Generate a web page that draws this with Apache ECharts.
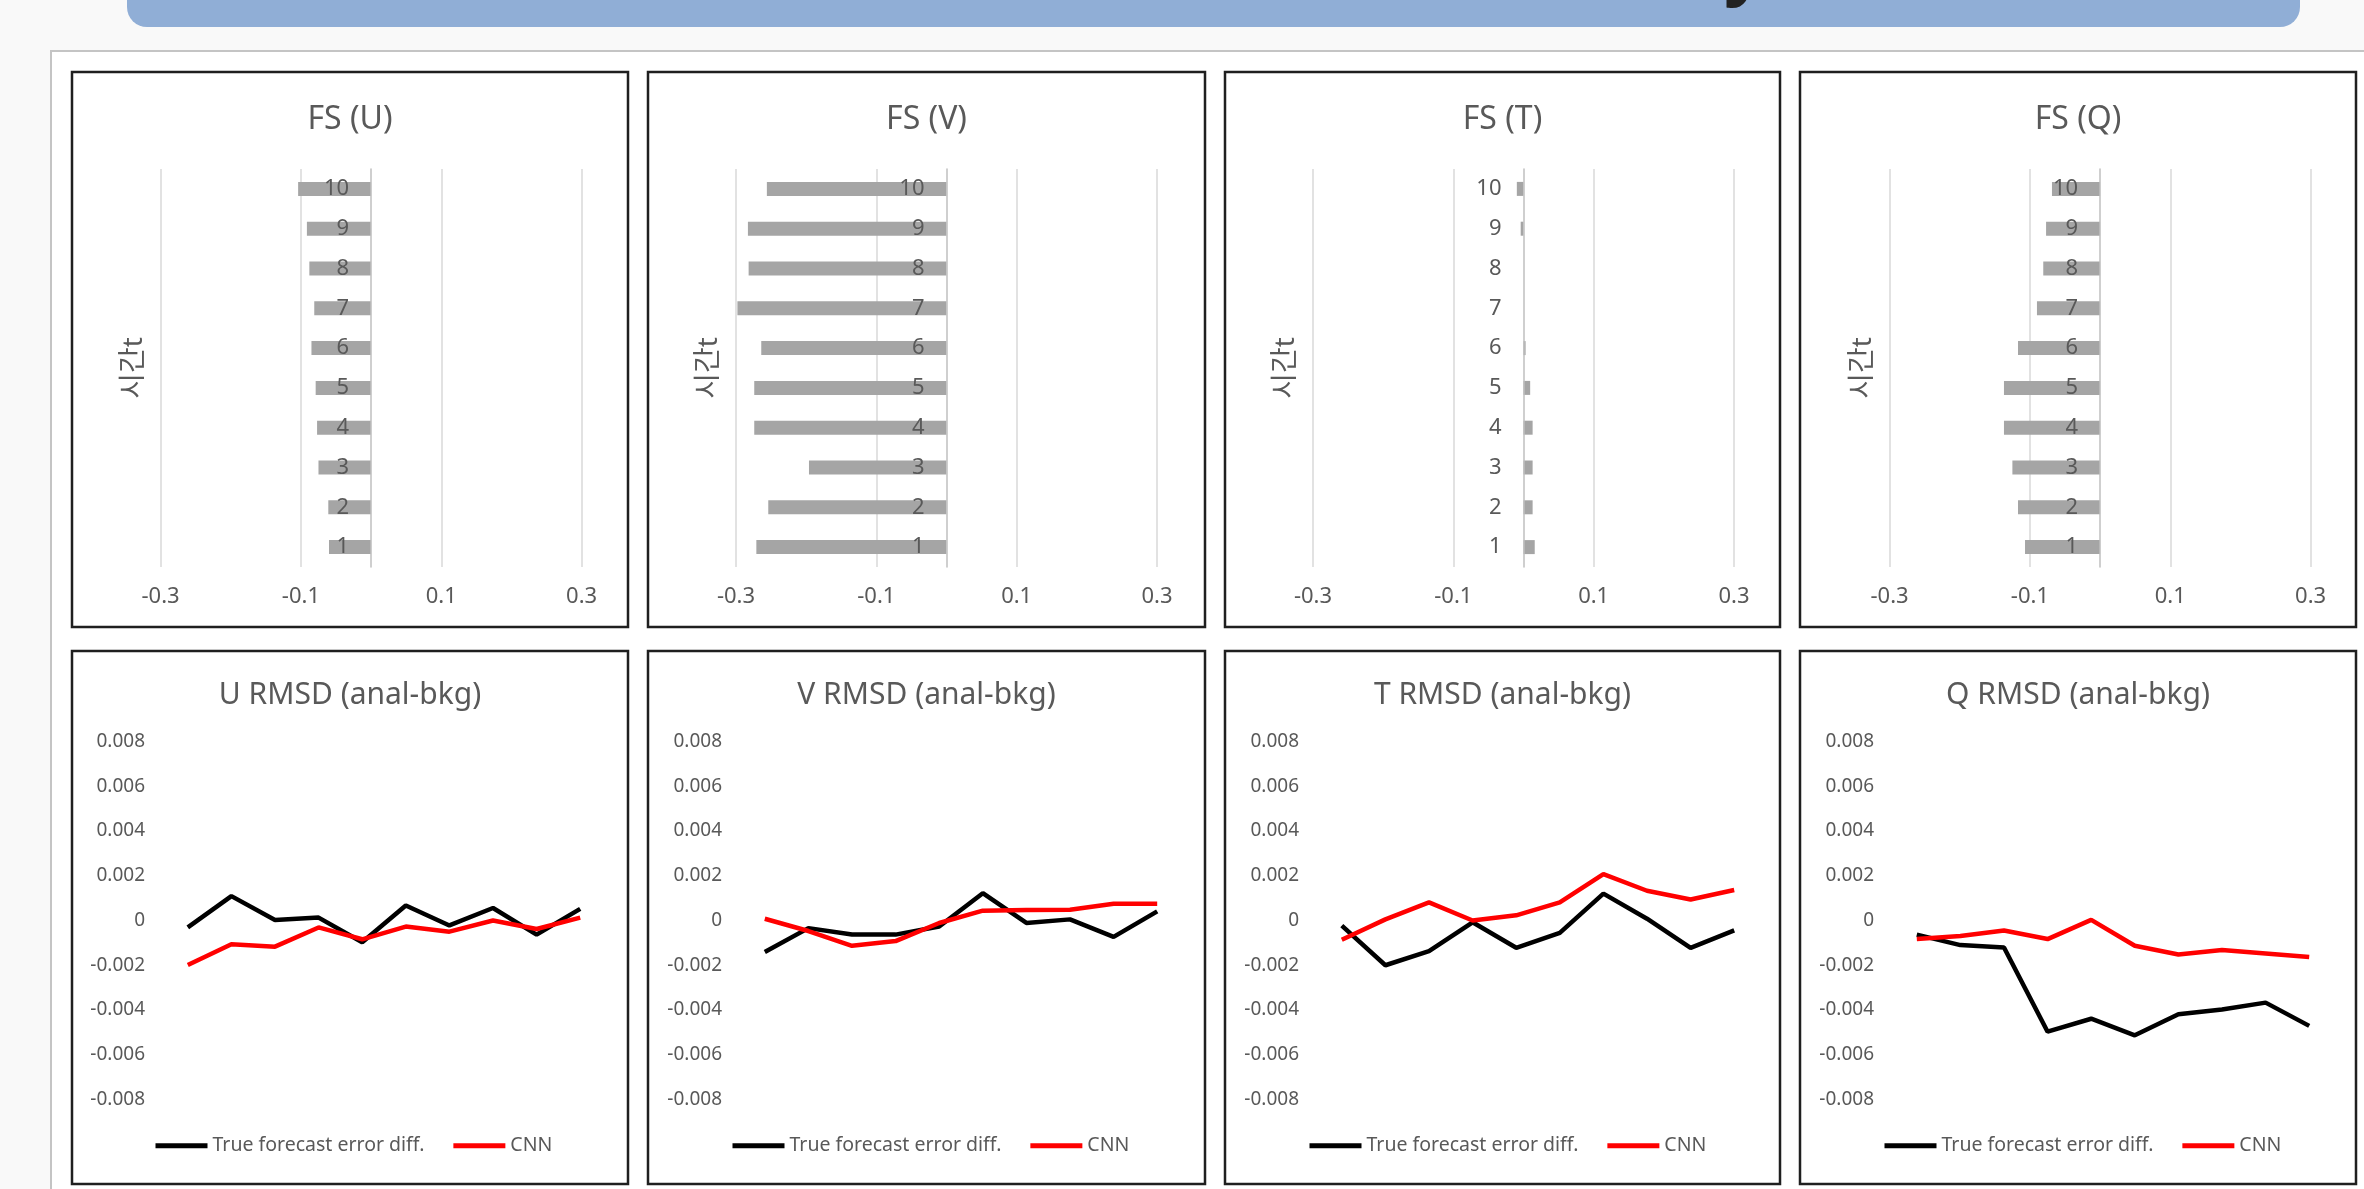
<!DOCTYPE html>
<html>
<head>
<meta charset="utf-8">
<script src="https://cdn.jsdelivr.net/npm/echarts@6/dist/echarts.min.js"></script>
<style>
  html, body { margin: 0; padding: 0; background: #f9f9f9; overflow: hidden; }
  #banner {
    position: absolute; left: 127px; top: -30px; width: 2173px; height: 57px;
    background: #90aed6; border-radius: 20px; overflow: hidden;
  }
  #banner span {
    position: absolute; left: 1597px; top: -43px;
    font: bold 72px/72px "Noto Sans", sans-serif; color: #222;
  }
  #sheet {
    position: absolute; left: 50px; top: 50px; width: 2400px; height: 1300px;
    background: #fff; border: 2px solid #c4c4c4; box-sizing: border-box;
  }
  #chart { position: absolute; left: 0; top: 0; width: 2364px; height: 1189px; }
</style>
</head>
<body>
<div id="banner"><span>y</span></div>
<div id="sheet"></div>
<div id="chart"></div>
<script>
// Forecast steps (category axis of every panel)
const steps = ['1', '2', '3', '4', '5', '6', '7', '8', '9', '10'];

// Forecast sensitivity per step (top row, horizontal bars)
const fsU = [-0.060, -0.061, -0.075, -0.077, -0.079, -0.085, -0.081, -0.088, -0.0915, -0.104];
const fsV = [-0.271, -0.254, -0.196, -0.274, -0.274, -0.264, -0.298, -0.282, -0.283, -0.256];
const fsT = [0.016, 0.013, 0.013, 0.013, 0.0095, 0.003, 0, 0, -0.004, -0.0095];
const fsQ = [-0.107, -0.117, -0.125, -0.137, -0.137, -0.117, -0.090, -0.081, -0.077, -0.0686];

// RMSD difference (analysis - background) per step (bottom row, lines)
const trueU = [-0.00031, 0.00109, 0.00002, 0.00013, -0.00097, 0.00067, -0.00022, 0.00056, -0.00063, 0.00052];
const cnnU  = [-0.00199, -0.00106, -0.00117, -0.00031, -0.00084, -0.00027, -0.0005, 0.0, -0.00038, 0.00013];
const trueV = [-0.00141, -0.00034, -0.00063, -0.00063, -0.00027, 0.00122, -0.00011, 0.00005, -0.00073, 0.00041];
const cnnV  = [0.00008, -0.00047, -0.00113, -0.00092, -0.00011, 0.00044, 0.00047, 0.00048, 0.00075, 0.00075];
const trueT = [-0.00023, -0.002, -0.00137, -0.00008, -0.00122, -0.00055, 0.0012, 0.00008, -0.00122, -0.00044];
const cnnT  = [-0.00086, 0.00005, 0.00081, 0.0, 0.00023, 0.00081, 0.00207, 0.00133, 0.00094, 0.00136];
const trueQ = [-0.00063, -0.0011, -0.00121, -0.00497, -0.00439, -0.00513, -0.00419, -0.00398, -0.00367, -0.00471];
const cnnQ  = [-0.00083, -0.00069, -0.00045, -0.00083, 0.00003, -0.00113, -0.00152, -0.00132, -0.00147, -0.00163];

// Texts
const fsTitles = ['FS (U)', 'FS (V)', 'FS (T)', 'FS (Q)'];
const rmsdTitles = ['U RMSD (anal-bkg)', 'V RMSD (anal-bkg)', 'T RMSD (anal-bkg)', 'Q RMSD (anal-bkg)'];
const stepAxisName = '시간t';
const seriesNames = ['True forecast error diff.', 'CNN'];

const fsData = [fsU, fsV, fsT, fsQ];
const trueData = [trueU, trueV, trueT, trueQ];
const cnnData = [cnnU, cnnV, cnnT, cnnQ];

// ---- layout ----
const FONT = '"Noto Sans", "Noto Sans CJK KR", sans-serif';
const GREY_TEXT = '#595959';
const boxLeft = [72, 648, 1225, 1800];
const boxRight = [628, 1205, 1780, 2356];
const topBox = [72, 627];
const bottomBox = [651, 1184];
const barGridLeft = [160.6, 736, 1313, 1889.6];
const barGridWidth = 421;
const lineGridLeft = [166, 743, 1320, 1895];
const lineGridWidth = 436;

const grid = [], xAxis = [], yAxis = [], series = [], legend = [], graphic = [];

for (let i = 0; i < 4; i++) {
  // top: horizontal bar panel, value axis symmetric around 0
  grid.push({ left: barGridLeft[i], top: 169, width: barGridWidth, height: 398, outerBoundsMode: 'none' });
  xAxis.push({
    gridIndex: i, type: 'value', min: -0.3, max: 0.3, interval: 0.1,
    axisLine: { show: false }, axisTick: { show: false },
    splitLine: { show: true, lineStyle: { color: ['#d9d9d9', 'rgba(0,0,0,0)'], width: 1.5 } },
    axisLabel: {
      color: GREY_TEXT, fontSize: 22, fontFamily: FONT, margin: 19,
      formatter: v => { const k = Math.round(v * 10); return k % 2 !== 0 ? (k / 10).toString() : ''; }
    }
  });
  // step axis sits on the zero line: shift it to the middle of the grid
  yAxis.push({
    gridIndex: i, type: 'category', data: steps, z: 5,
    offset: -barGridWidth / 2,
    axisLine: { show: true, onZero: false, lineStyle: { color: '#bfbfbf', width: 1.5 } },
    axisTick: { show: false }, splitLine: { show: false },
    axisLabel: { color: GREY_TEXT, fontSize: 22, fontFamily: FONT, margin: 22, interval: 0 }
  });
  series.push({
    type: 'bar', xAxisIndex: i, yAxisIndex: i, data: fsData[i], barWidth: 14,
    itemStyle: { color: '#a5a5a5' }, silent: true, z: 2
  });
}

for (let i = 0; i < 4; i++) {
  const g = 4 + i;
  // bottom: line panel
  grid.push({ left: lineGridLeft[i], top: 741.5, width: lineGridWidth, height: 358, outerBoundsMode: 'none' });
  xAxis.push({
    gridIndex: g, type: 'category', data: steps, boundaryGap: true,
    axisLine: { show: false }, axisTick: { show: false }, axisLabel: { show: false }, splitLine: { show: false }
  });
  yAxis.push({
    gridIndex: g, type: 'value', min: -0.008, max: 0.008, interval: 0.002,
    axisLine: { show: false }, axisTick: { show: false }, splitLine: { show: false },
    axisLabel: {
      color: GREY_TEXT, fontSize: 19, fontFamily: FONT, margin: 21,
      formatter: v => (Math.abs(v) < 1e-9 ? '0' : v.toFixed(3))
    }
  });
  series.push({
    type: 'line', name: seriesNames[0], xAxisIndex: g, yAxisIndex: g, data: trueData[i],
    symbol: 'none', color: '#000000', lineStyle: { width: 4.5, color: '#000000' }, silent: true, z: 3
  });
  series.push({
    type: 'line', name: seriesNames[1], xAxisIndex: g, yAxisIndex: g, data: cnnData[i],
    symbol: 'none', color: '#ff0000', lineStyle: { width: 4.5, color: '#ff0000' }, silent: true, z: 4
  });
  legend.push({
    left: lineGridLeft[i] - 10.5, top: 1136, padding: 0, orient: 'horizontal',
    icon: 'rect', itemWidth: 52, itemHeight: 5, itemGap: 29,
    selectedMode: false,
    textStyle: { color: GREY_TEXT, fontSize: 19.5, fontFamily: FONT },
    data: seriesNames
  });
}

// panel frames, titles and the step-axis names
for (let i = 0; i < 4; i++) {
  const cx = (boxLeft[i] + boxRight[i]) / 2;
  [topBox, bottomBox].forEach(b => {
    graphic.push({
      type: 'rect', silent: true,
      shape: { x: boxLeft[i], y: b[0], width: boxRight[i] - boxLeft[i], height: b[1] - b[0] },
      style: { fill: 'none', stroke: '#1f1f1f', lineWidth: 2.5 }
    });
  });
  graphic.push({
    type: 'text', silent: true, x: cx, y: 120,
    style: { text: fsTitles[i], fill: GREY_TEXT, font: '32px ' + FONT, textAlign: 'center', textVerticalAlign: 'middle' }
  });
  graphic.push({
    type: 'text', silent: true, x: cx, y: 695,
    style: { text: rmsdTitles[i], fill: GREY_TEXT, font: '30px ' + FONT, textAlign: 'center', textVerticalAlign: 'middle' }
  });
  graphic.push({
    type: 'text', silent: true, x: barGridLeft[i] - 27, y: 368, rotation: Math.PI / 2,
    style: { text: stepAxisName, fill: GREY_TEXT, font: '28px ' + FONT, textAlign: 'center', textVerticalAlign: 'middle' }
  });
}

const chart = echarts.init(document.getElementById('chart'), null, { renderer: 'canvas' });
chart.setOption({
  backgroundColor: 'transparent',
  animation: false,
  grid, xAxis, yAxis, series, legend, graphic
});
</script>
</body>
</html>
